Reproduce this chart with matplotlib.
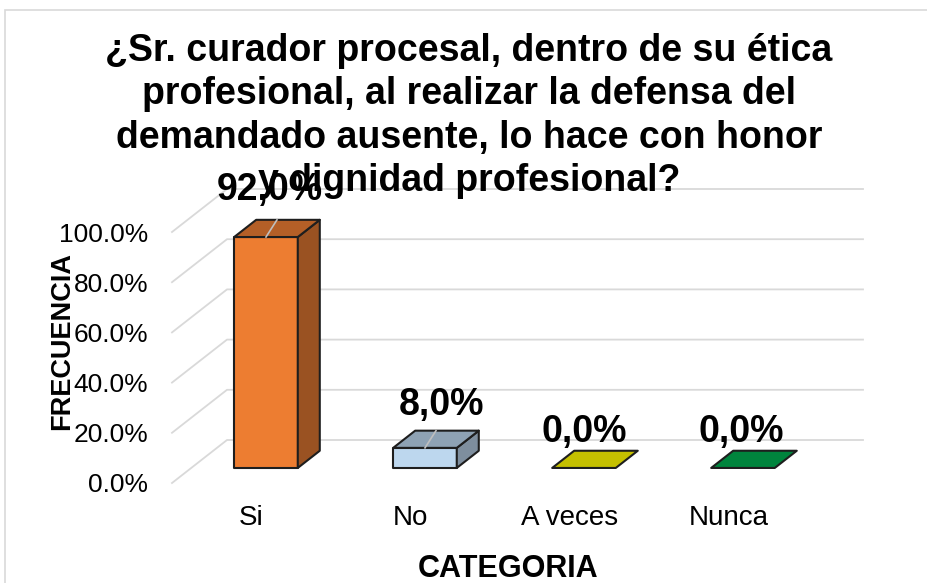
import matplotlib
matplotlib.use('Agg')
import matplotlib.pyplot as plt
from matplotlib.patches import Polygon, Rectangle

# Datos del gráfico
categorias = ['Si', 'No', 'A veces', 'Nunca']
porcentajes = [92.0, 8.0, 0.0, 0.0]
etiquetas = ['92,0%', '8,0%', '0,0%', '0,0%']
ticks_y = [0, 20, 40, 60, 80, 100]
titulo = ('¿Sr. curador procesal, dentro de su ética\n'
          'profesional, al realizar la defensa del\n'
          'demandado ausente, lo hace con honor\n'
          'y dignidad profesional?')

colores_frente = ['#ED7D31', '#BDD7EE', '#C5C000', '#00843D']
colores_arriba = ['#B45F27', '#8EA2B4', '#C5C000', '#00843D']
colores_lado = ['#9A5222', '#7E8E9E', '#A8A400', '#006E33']

# desplazamiento de cada etiqueta de datos (en puntos)
desp_x = [-5, 4, -8, -9]
desp_y = [28, 25, 20, 20]

plt.rcParams['font.family'] = ['Liberation Sans', 'DejaVu Sans']

W, H = 928, 583
fig = plt.figure(figsize=(W / 100, H / 100), dpi=100)

# borde del área del gráfico
fig.add_artist(Rectangle((5 / W, -0.05), 1.2, (H - 10) / H + 0.05, transform=fig.transFigure,
                         fill=False, edgecolor='#d9d9d9', lw=1.2))

ax = fig.add_axes([172 / W, (H - 483) / H, 636 / W, 251 / H])
ax.set_xlim(-0.5, 3.5)
ax.set_ylim(0, 100)
ax.patch.set_alpha(0)
for s in ax.spines.values():
    s.set_visible(False)

# desplazamiento de profundidad (efecto 3D)
dx = 55 / 159
dy = 43 / 2.51
d1, d2 = 0.35, 0.75
w = 0.2
corr = -0.03

# líneas de cuadrícula: pared lateral y pared del fondo
for v in ticks_y:
    ax.plot([-0.5, -0.5 + dx, 3.5 + dx], [v, v + dy, v + dy], color='#d9d9d9', lw=1.3,
            clip_on=False, zorder=1)

for i, (v, lab) in enumerate(zip(porcentajes, etiquetas)):
    x0 = i - w + d1 * dx + corr
    x1 = i + w + d1 * dx + corr
    base = d1 * dy
    top = v + d1 * dy
    sx = (d2 - d1) * dx
    sy = (d2 - d1) * dy
    kw = dict(edgecolor='#1e1e1e', lw=1.5, clip_on=False, zorder=3, joinstyle='round')
    if v > 0:
        ax.add_patch(Polygon([(x0, base), (x1, base), (x1, top), (x0, top)],
                             facecolor=colores_frente[i], **kw))
        ax.add_patch(Polygon([(x1, base), (x1 + sx, base + sy), (x1 + sx, top + sy), (x1, top)],
                             facecolor=colores_lado[i], **kw))
    ax.add_patch(Polygon([(x0, top), (x1, top), (x1 + sx, top + sy), (x0 + sx, top + sy)],
                         facecolor=colores_arriba[i], **kw))
    xc = (x0 + x1) / 2 + sx / 2
    yc = top + sy / 2
    ax.annotate(lab, xy=(xc, yc), xytext=(desp_x[i], desp_y[i]), textcoords='offset points',
                ha='center', va='center', fontsize=27, fontweight='bold', zorder=5,
                annotation_clip=False)
    if v > 0:
        # línea guía de la etiqueta
        ax.plot([xc, (x0 + x1) / 2], [yc + sy / 2, top], color='#bfbfbf', lw=1.2,
                zorder=4, clip_on=False)

ax.set_xticks(range(len(categorias)))
ax.set_xticklabels(categorias, fontsize=20)
ax.set_yticks(ticks_y)
ax.set_yticklabels([f'{t:.1f}%' for t in ticks_y], fontsize=19)
ax.tick_params(axis='y', length=0, pad=17)
ax.tick_params(axis='x', length=0, pad=16)

fig.text(62 / W, (H - 341) / H, 'FRECUENCIA', rotation=90, ha='center', va='center',
         fontsize=19.5, fontweight='bold')
fig.text(508 / W, (H - 569) / H, 'CATEGORIA', ha='center', va='center',
         fontsize=22, fontweight='bold')
fig.text(469 / W, (H - 116) / H, titulo, ha='center', va='center', fontsize=27,
         fontweight='bold', linespacing=1.26, zorder=6)

fig.savefig('out.png', dpi=100)
